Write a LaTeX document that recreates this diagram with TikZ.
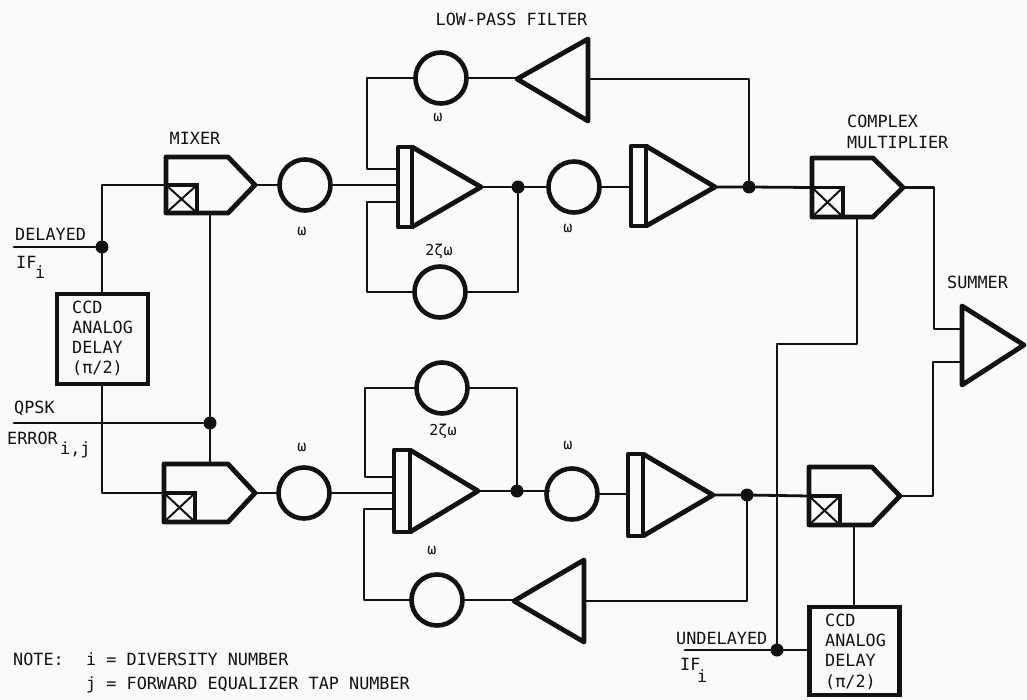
\documentclass[tikz,border=0pt]{standalone}
\usepackage{fontspec}
\setmainfont{DejaVu Sans Mono}
\tikzset{
  wire/.style={line width=2.8pt,line join=round,line cap=round,draw=ink},
  heavy/.style={line width=4.8pt,line join=round,draw=ink},
  gain/.style={circle,draw=ink,line width=4.6pt,minimum size=51pt,inner sep=0pt},
  jn/.style={circle,fill=ink,minimum size=13pt,inner sep=0pt},
  lab/.style={text=ink,inner sep=0pt,font=\fontsize{16.8}{16.8}\selectfont,anchor=west},
  wlab/.style={text=ink,inner sep=0pt,font=\fontsize{15}{15}\selectfont},
}
\definecolor{ink}{gray}{0.07}
% mixer: #1 name, #2 left, #3 top, #4 bottom, #5 tip x, #6 shoulder x, #7 square right
\newcommand{\mixerblock}[7]{
  \pgfmathsetmacro{\midy}{(#3+#4)/2}
  \coordinate (#1in) at (#2,\midy);
  \coordinate (#1out) at (#5,\midy);
  \draw[heavy] (#2,#3) -- (#6,#3) -- (#5,\midy) -- (#6,#4) -- (#2,#4) -- cycle;
  \draw[draw=ink,line width=3.4pt] (#2,\midy) -- (#7,\midy) -- (#7,#4);
  \draw[draw=ink,line width=2pt] (#2,\midy) -- (#7,#4) (#2,#4) -- (#7,\midy);
}
% integrator amp: #1 name, #2 left, #3 bar, #4 top, #5 bottom, #6 tip x, #7 tip y
\newcommand{\ampblock}[7]{
  \coordinate (#1out) at (#6,#7);
  \coordinate (#1in) at (#2,#7);
  \draw[heavy] (#3,#4) -- (#2,#4) -- (#2,#5) -- (#3,#5) -- cycle;
  \draw[heavy] (#3,#4) -- (#6,#7) -- (#3,#5);
}
\begin{document}
\begin{tikzpicture}[x=1pt,y=-1pt]
\path[use as bounding box,fill=black!2] (0,0) rectangle (1027,700);

% upper path blocks
\mixerblock{mxa}{166}{157}{213}{255}{228}{197}
\node[gain] (ca) at (305,185) {};
\ampblock{ampa}{398}{412}{147}{227}{481}{187}
\node[gain] (cb) at (574,187) {};
\ampblock{ampb}{631}{646}{146}{226}{715}{187}
\node[gain] (fa) at (441,78) {};
\node[gain] (da) at (440,292) {};
\draw[heavy] (588,39) -- (588,121) -- (517,79) -- cycle;
\coordinate (lpaL) at (517,79);
\coordinate (lpaR) at (588,79);
\node[jn] (ja) at (518,187) {};
\node[jn] (jb) at (749,187) {};
\mixerblock{cma}{812}{158}{217}{903}{873}{843}

% lower path blocks
\mixerblock{mxb}{164}{464}{522}{255}{228}{195}
\node[gain] (cc) at (304,493) {};
\ampblock{ampc}{394}{410}{450}{532}{478}{491}
\node[gain] (cd) at (572,494) {};
\ampblock{ampd}{628}{643}{454}{536}{713}{495}
\node[gain] (db) at (442,388) {};
\node[gain] (fb) at (437,600) {};
\draw[heavy] (584,560) -- (584,642) -- (514,601) -- cycle;
\coordinate (lpbL) at (514,601);
\coordinate (lpbR) at (584,601);
\node[jn] (jc) at (517,491) {};
\node[jn] (jd) at (747,495) {};
\mixerblock{cmb}{809}{467}{525}{900}{872}{840}

% delays
\node[draw=ink,line width=4.6pt,minimum width=91pt,minimum height=90pt,inner sep=0pt] (dla) at (102.5,339) {};
\node[draw=ink,line width=4.6pt,minimum width=90pt,minimum height=88pt,inner sep=0pt] (dlb) at (854.5,651) {};

% summer
\draw[heavy] (962,306) -- (962,385) -- (1024,345) -- cycle;
\coordinate (suma) at (962,329);
\coordinate (sumb) at (962,362);

% free ends and junctions
\coordinate (delL) at (14,247);
\node[jn] (jdel) at (102,247) {};
\coordinate (qpL) at (14,423);
\node[jn] (jqp) at (210,423) {};
\coordinate (undL) at (685,650);
\node[jn] (jund) at (777,650) {};

% connectors: upper
\draw[wire] (delL) -- (jdel);
\draw[wire] (dla.north -| jdel) -- (jdel) |- (mxain);
\draw[wire] (mxaout) -- (ca);
\draw[wire] (ca) -- (398,185);
\draw[wire] (fa.west) -- (367,78) |- (398,169);
\draw[wire] (ja) |- (da.east);
\draw[wire] (da.west) -- (367,292) |- (398,202);
\draw[wire] (ampaout) -- (ja) -- (cb);
\draw[wire] (cb) -- (631,187);
\draw[wire] (ampbout) -- (jb) -- (cmain);
\draw[wire] (jb) -- (749,79) -- (lpaR);
\draw[wire] (lpaL) -- (517,78) -- (fa.east);
% connectors: lower
\draw[wire] (dla.south -| jdel) |- (mxbin);
\draw[wire] (qpL) -- (jqp);
\draw[wire] (210,213) -- (jqp) -- (210,464);
\draw[wire] (mxbout) -- (cc);
\draw[wire] (cc) -- (394,493);
\draw[wire] (db.west) -- (365,388) |- (394,477);
\draw[wire] (jc) |- (db.east);
\draw[wire] (fb.west) -- (364,600) |- (394,509);
\draw[wire] (ampcout) -- (jc) -- (549,491);
\draw[wire] (cd) -- (628,494);
\draw[wire] (ampdout) -- (jd) -- (cmbin);
\draw[wire] (jd) |- (lpbR);
\draw[wire] (lpbL) -- (514,600) -- (fb.east);
% connectors: right
\draw[wire] (cmaout) -- (934,187.5) |- (suma);
\draw[wire] (cmbout) -- (933,496) -- (933,362) -- (sumb);
\draw[wire] (undL) -- (jund) -- (dlb.west |- jund);
\draw[wire] (jund) -- (777,344) -- (857,344) -- (857,217);
\draw[wire] (854,525) -- (dlb.north -| 854,0);

% labels
\node[lab,anchor=center] (tlp) at (511.5,19) {LOW-PASS FILTER};
\node[lab,anchor=center] (tmx) at (195,138) {MIXER};
\node[lab] (tcm1) at (847,121) {COMPLEX};
\node[lab] (tcm2) at (847,142) {MULTIPLIER};
\node[lab] (tsum) at (947,282) {SUMMER};
\node[lab] (tdel) at (15,234) {DELAYED};
\node[lab] (tif) at (16,262) {IF};
\node[lab] (tifs) at (35,272) {i};
\node[lab] (tqp) at (14,408) {QPSK};
\node[lab] (terr) at (7,438) {ERROR};
\node[lab] (terrs) at (60,450) {i,j};
\node[lab] (tund) at (676,638) {UNDELAYED};
\node[lab] (tif2) at (680,664) {IF};
\node[lab] (tif2s) at (697,676) {i};
\node[lab] (a1) at (72,307) {CCD};
\node[lab] (a2) at (72,327) {ANALOG};
\node[lab] (a3) at (72,347) {DELAY};
\node[lab] (a4) at (72,368) {(π/2)};
\node[lab] (b1) at (825,620) {CCD};
\node[lab] (b2) at (825,640) {ANALOG};
\node[lab] (b3) at (825,660) {DELAY};
\node[lab] (b4) at (825,682) {(π/2)};
\node[wlab] (w1) at (302,232) {ω};
\node[wlab] (w2) at (568,229) {ω};
\node[wlab] (w3) at (438,118) {ω};
\node[wlab] (w4) at (302,448) {ω};
\node[wlab] (w5) at (568,446) {ω};
\node[wlab] (w6) at (432,551) {ω};
\node[wlab] (z1) at (439,251) {2ζω};
\node[wlab] (z2) at (443,431) {2ζω};
\node[lab] (n1) at (13,659) {NOTE:};
\node[lab] (n2) at (86,659) {i = DIVERSITY NUMBER};
\node[lab] (n3) at (86,685) {j = FORWARD EQUALIZER TAP NUMBER};
\end{tikzpicture}
\end{document}
